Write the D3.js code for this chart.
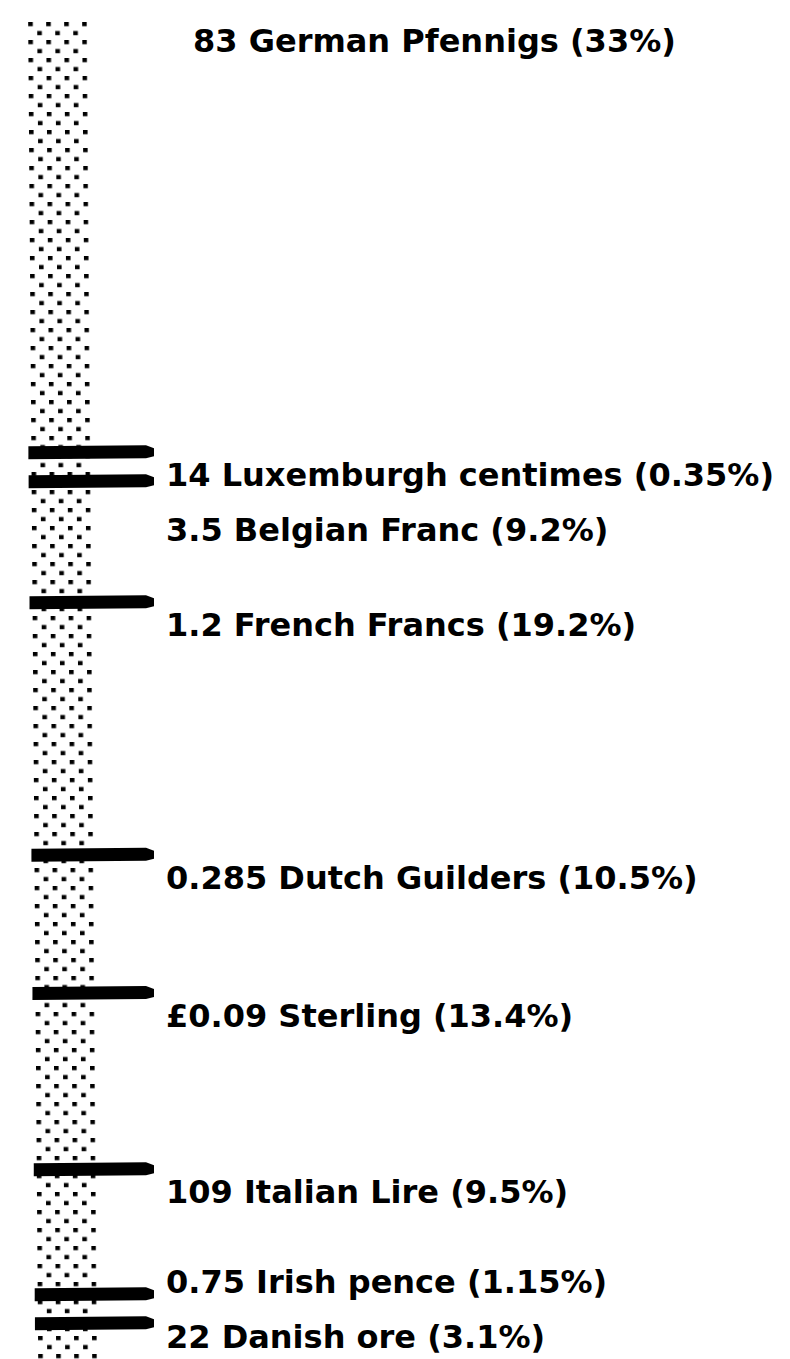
<!DOCTYPE html>
<html>
<head>
<meta charset="utf-8">
<script src="https://cdn.jsdelivr.net/npm/d3@7"></script>
<style>
  html, body { margin: 0; padding: 0; background: #fff; }
  svg { display: block; }
</style>
</head>
<body>
<div id="chart"></div>
<script>
// ---- data (ECU basket composition) ----
const amounts = ["83", "14", "3.5", "1.2", "0.285", "£0.09", "109", "0.75", "22"];
const currencies = ["German Pfennigs", "Luxemburgh centimes", "Belgian Franc", "French Francs",
                    "Dutch Guilders", "Sterling", "Italian Lire", "Irish pence", "Danish ore"];
const shares = [33, 0.35, 9.2, 19.2, 10.5, 13.4, 9.5, 1.15, 3.1];

// ---- layout ----
const W = 790, H = 1359;
const barTop = 18, barBottom = 1364;
const barLeft = 27, barWidth = 60;
const slantDeg = 0.43;
const slant = Math.tan(slantDeg * Math.PI / 180);
const minShare = 2.2;           // smallest drawn segment (as in the original, tiny shares are enlarged)

const svg = d3.select("#chart").append("svg")
  .attr("width", W).attr("height", H);

// stipple pattern
const defs = svg.append("defs");
const pat = defs.append("pattern")
  .attr("id", "stipple")
  .attr("patternUnits", "userSpaceOnUse")
  .attr("width", 18).attr("height", 18)
  .attr("x", barLeft + 1).attr("y", 22);
pat.append("rect").attr("x", 0).attr("y", 0).attr("width", 4.6).attr("height", 4.2).attr("fill", "#000");
pat.append("rect").attr("x", 9).attr("y", 9).attr("width", 4.6).attr("height", 4.2).attr("fill", "#000");

const drawn = shares.map(s => Math.max(s, minShare));
const cum = [0, ...d3.cumsum(drawn)];
const y = d3.scaleLinear().domain([0, cum[cum.length - 1]]).range([barTop, barBottom]);

const segs = shares.map((s, i) => ({
  share: s,
  label: `${amounts[i]} ${currencies[i]} (${s}%)`,
  y0: y(cum[i]),
  y1: y(cum[i + 1])
}));

// bar (slightly slanted, like the original drawing)
svg.append("g")
  .attr("transform", `skewX(${slantDeg})`)
  .append("rect")
  .attr("x", barLeft)
  .attr("y", barTop)
  .attr("width", barWidth)
  .attr("height", barBottom - barTop)
  .attr("fill", "url(#stipple)");

// divider strokes at each segment boundary
const lineEnd = 154;
svg.append("g").selectAll("path")
  .data(segs.slice(1))
  .join("path")
  .attr("d", d => {
    const c = d.y0;
    const x0 = barLeft + c * slant - 2;
    return `M${x0},${c - 6} L${lineEnd - 8},${c - 7} L${lineEnd},${c - 4} L${lineEnd},${c + 4} L${lineEnd - 8},${c + 6} L${x0},${c + 7} Z`;
  })
  .attr("fill", "#000");

// labels: placed just below each segment's top, then spread so they do not collide
const gap = 55, offset = 34, maxBase = 1348;
const base = segs.map(d => d.y0 + offset);
for (let i = 1; i < base.length; i++) base[i] = Math.max(base[i], base[i - 1] + gap);
base[base.length - 1] = Math.min(base[base.length - 1], maxBase);
for (let i = base.length - 2; i >= 0; i--) base[i] = Math.min(base[i], base[i + 1] - gap);

svg.append("g").selectAll("text")
  .data(segs)
  .join("text")
  .attr("x", (d, i) => i === 0 ? 193 : 166)
  .attr("y", (d, i) => base[i])
  .attr("font-family", "'DejaVu Sans', sans-serif")
  .attr("font-weight", "bold")
  .attr("font-size", 32)
  .attr("fill", "#000")
  .text(d => d.label);
</script>
</body>
</html>
